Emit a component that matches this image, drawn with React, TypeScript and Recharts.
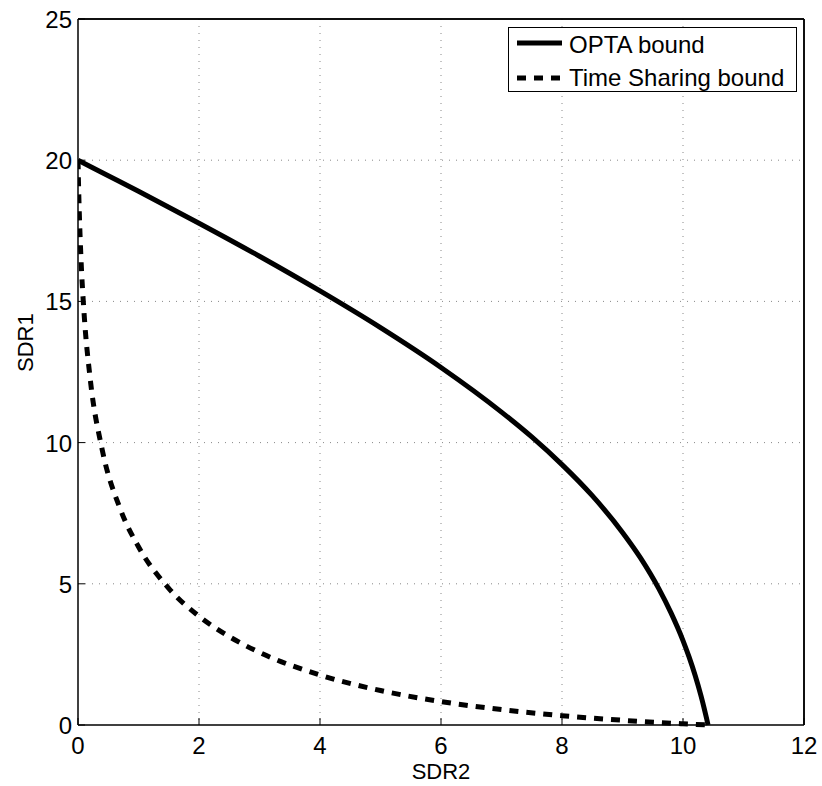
import React from 'react';
import { LineChart, Line, XAxis, YAxis, CartesianGrid, Legend, Label, ReferenceLine } from 'recharts';

// values
const optaSdr2 = [0, 0.5, 1, 2, 3, 4, 5, 6, 7, 7.5, 8, 8.5, 9, 9.3, 9.6, 9.8, 10, 10.1, 10.2, 10.3, 10.35, 10.39, 10.414];
const optaSdr1 = [20, 19.45, 18.9, 17.77, 16.6, 15.37, 14.07, 12.66, 11.08, 10.2, 9.22, 8.12, 6.82, 5.91, 4.83, 3.98, 2.99, 2.41, 1.76, 1.01, 0.59, 0.23, 0];

const tsSdr2 = [0, 0.005, 0.01, 0.02, 0.05, 0.1, 0.2, 0.4, 0.7, 1, 1.5, 2, 2.5, 3, 4, 5, 6, 7, 8, 9, 10, 10.41];
const tsSdr1 = [20, 19.49, 19.03, 18.24, 16.48, 14.59, 12.29, 9.75, 7.64, 6.31, 4.84, 3.85, 3.13, 2.57, 1.77, 1.22, 0.83, 0.545, 0.33, 0.167, 0.042, 0];

const xTicks = [0, 2, 4, 6, 8, 10, 12];
const yTicks = [0, 5, 10, 15, 20, 25];

const optaData = optaSdr2.map((x, i) => ({ x, y: optaSdr1[i] }));
const tsData = tsSdr2.map((x, i) => ({ x, y: tsSdr1[i] }));

const FONT = '"Liberation Sans", Arial, Helvetica, sans-serif';
const TICK_LEN = 7;

const BottomTick = (props: any) => {
  const { x, y, payload } = props;
  return (
    <g>
      <line x1={x} y1={y} x2={x} y2={y - TICK_LEN} stroke="#000" strokeWidth={1} />
      <text x={x} y={y + 29} textAnchor="middle" fontSize={24} fontFamily={FONT} fill="#000">
        {payload.value}
      </text>
    </g>
  );
};

const TopTick = (props: any) => {
  const { x, y } = props;
  return <line x1={x} y1={y} x2={x} y2={y + TICK_LEN} stroke="#000" strokeWidth={1} />;
};

const LeftTick = (props: any) => {
  const { x, y, payload } = props;
  return (
    <g>
      <line x1={x} y1={y} x2={x + TICK_LEN} y2={y} stroke="#000" strokeWidth={1} />
      <text x={x - 6} y={y + 9} textAnchor="end" fontSize={24} fontFamily={FONT} fill="#000">
        {payload.value}
      </text>
    </g>
  );
};

const RightTick = (props: any) => {
  const { x, y } = props;
  return <line x1={x} y1={y} x2={x - TICK_LEN} y2={y} stroke="#000" strokeWidth={1} />;
};

const LegendBox = (props: any) => {
  const { payload } = props;
  return (
    <svg width={289} height={65} style={{ display: 'block' }}>
      <rect x={0.5} y={0.5} width={288} height={64} fill="#fff" stroke="#000" strokeWidth={1} />
      {(payload || []).map((entry: any, i: number) => (
        <g key={entry.value}>
          <line
            x1={9}
            x2={54}
            y1={16 + i * 35}
            y2={16 + i * 35}
            stroke="#000"
            strokeWidth={5}
            strokeDasharray={entry.payload?.strokeDasharray}
          />
          <text x={61} y={26 + i * 33} fontSize={24} fontFamily={FONT} fill="#000">
            {entry.value}
          </text>
        </g>
      ))}
    </svg>
  );
};

export default function App() {
  return (
    <div style={{ position: 'absolute', left: 0, top: 0, width: 822, height: 786, background: '#fff' }}>
      <LineChart width={822} height={786} margin={{ top: 18, right: 17, bottom: 0, left: 0 }}>
        <CartesianGrid
          xAxisId="bottom"
          yAxisId="left"
          stroke="#888"
          strokeDasharray="1 6"
          horizontalValues={[5, 10, 15, 20]}
          verticalValues={[2, 4, 6, 8, 10]}
        />
        <XAxis
          xAxisId="bottom"
          type="number"
          dataKey="x"
          domain={[0, 12]}
          ticks={xTicks}
          allowDataOverflow
          height={61}
          tickSize={0}
          tickMargin={0}
          tick={<BottomTick />}
          axisLine={{ stroke: '#000', strokeWidth: 1.5 }}
        >
          <Label value="SDR2" position="insideBottom" offset={7} fontSize={22} fontFamily={FONT} fill="#000" />
        </XAxis>
        <XAxis
          xAxisId="top"
          orientation="top"
          type="number"
          dataKey="x"
          domain={[0, 12]}
          ticks={xTicks}
          height={1}
          tickSize={0}
          tickMargin={0}
          tick={<TopTick />}
          axisLine={{ stroke: '#000', strokeWidth: 1.5 }}
        />
        <YAxis
          yAxisId="left"
          type="number"
          domain={[0, 25]}
          ticks={yTicks}
          width={78}
          tickSize={0}
          tickMargin={0}
          tick={<LeftTick />}
          axisLine={{ stroke: '#000', strokeWidth: 1.5 }}
        >
          <Label value="SDR1" angle={-90} position="insideLeft" offset={25} fontSize={22} fontFamily={FONT} fill="#000" />
        </YAxis>
        <YAxis
          yAxisId="right"
          orientation="right"
          type="number"
          domain={[0, 25]}
          ticks={yTicks}
          width={1}
          tickSize={0}
          tickMargin={0}
          tick={<RightTick />}
          axisLine={{ stroke: '#000', strokeWidth: 1.5 }}
        />
        <ReferenceLine xAxisId="bottom" yAxisId="left" x={12} stroke="#000" strokeWidth={1.5} />
        <ReferenceLine xAxisId="bottom" yAxisId="left" y={25} stroke="#000" strokeWidth={1.5} />
        <Legend
          layout="horizontal"
          verticalAlign="middle"
          align="center"
          content={<LegendBox />}
          wrapperStyle={{ position: 'absolute', left: 508, top: 27, width: 289, height: 65 }}
        />
        <Line
          xAxisId="bottom"
          yAxisId="left"
          data={optaData}
          dataKey="y"
          name="OPTA bound"
          type="monotone"
          stroke="#000"
          strokeWidth={5}
          dot={false}
          activeDot={false}
          isAnimationActive={false}
        />
        <Line
          xAxisId="bottom"
          yAxisId="left"
          data={tsData}
          dataKey="y"
          name="Time Sharing bound"
          type="monotone"
          stroke="#000"
          strokeWidth={5}
          strokeDasharray="9 8"
          dot={false}
          activeDot={false}
          isAnimationActive={false}
        />
      </LineChart>
    </div>
  );
}
